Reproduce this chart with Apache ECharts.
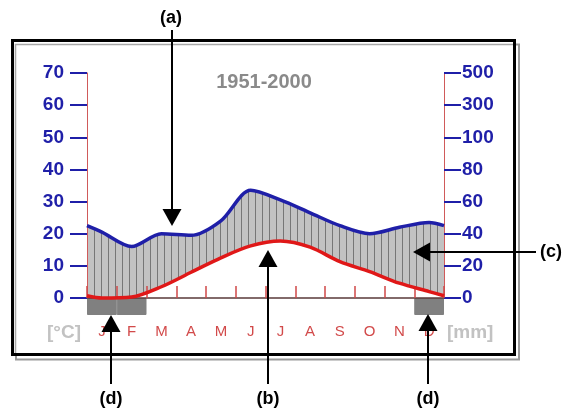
<!DOCTYPE html>
<html><head><meta charset="utf-8">
<script src="https://cdn.jsdelivr.net/npm/echarts@6/dist/echarts.min.js"></script>
<style>html,body{margin:0;padding:0;background:#fff}#c{width:566px;height:410px}</style>
</head><body><div id="c"></div>
<script>
// ---- data ----
const months = ['J','F','M','A','M','J','J','A','S','O','N','D'];
const monthPos = [0.5,1.5,2.5,3.5,4.5,5.5,6.5,7.5,8.5,9.5,10.5,11.5];
const temperature = [0.0, 0.3, 3.5, 8.0, 12.5, 16.2, 17.7, 15.8, 11.3, 8.2, 4.6, 2.0];   // °C
const precipitation = [41, 32, 40, 39, 48, 67, 61, 53, 45, 40, 44, 47];                  // mm
const edgeTemperature = 0.7;      // value on Jan 1 / Dec 31 edge
const edgePrecipitation = 45;     // mm on the edge
const frostMonths = [1,1,0,0,0,0,0,0,0,0,0,1];
const rightTickLabels = ['0','20','40','60','80','100','300','500'];
const title = '1951-2000';

const FONT = "'Liberation Sans', Arial, sans-serif";
const BLUE = '#1f1fa8';
const RED = '#e01818';

const tempData = [[0, edgeTemperature]].concat(monthPos.map((x,i)=>[x, temperature[i]]), [[12, edgeTemperature]]);
const precData = [[0, edgePrecipitation/2]].concat(monthPos.map((x,i)=>[x, precipitation[i]/2]), [[12, edgePrecipitation/2]]);

// hatch pattern
const pc = document.createElement('canvas');
pc.width = 7; pc.height = 4;
const g = pc.getContext('2d');
g.fillStyle = '#c2c2c2'; g.fillRect(0,0,7,4);
g.fillStyle = '#767676'; g.fillRect(3,0,1,4);

const SM = 0.3;
const chart = echarts.init(document.getElementById('c'), null, {renderer:'canvas'});

function arrow(x1,y1,x2,y2){
  const dx=x2-x1, dy=y2-y1, L=Math.hypot(dx,dy), ux=dx/L, uy=dy/L;
  const hl=17, hw=9.5;
  const bx=x2-ux*hl, by=y2-uy*hl;
  return [
    {type:'line', z:100, shape:{x1:x1,y1:y1,x2:bx,y2:by}, style:{stroke:'#000',lineWidth:2}},
    {type:'polygon', z:100, shape:{points:[[x2,y2],[bx-uy*hw,by+ux*hw],[bx+uy*hw,by-ux*hw]]}, style:{fill:'#000'}}
  ];
}
function label(t,x,y){
  return {type:'text', z:100, style:{text:t,x:x,y:y,fill:'#000',font:'bold 18px '+FONT,textAlign:'center',textVerticalAlign:'middle'}};
}

const graphics = [
  {type:'rect', z:-1, shape:{x:16,y:44.5,width:503,height:315}, style:{fill:'none',stroke:'#9a9a9a',lineWidth:2}},
  {type:'rect', z:-1, shape:{x:12.5,y:40.5,width:502,height:314}, style:{fill:'#fff',stroke:'#000',lineWidth:3}},
  {type:'polyline', z:-1, shape:{points:[[15.5,353],[15.5,44.5],[513,44.5]]}, style:{fill:'none',stroke:'#a8a8a8',lineWidth:1.5}},
  {type:'text', style:{text:title,x:264,y:82,fill:'#8a8a8a',font:'bold 20px '+FONT,textAlign:'center',textVerticalAlign:'middle'}},
  {type:'text', style:{text:'[°C]',x:81,y:333,fill:'#c2c2c2',font:'bold 19px '+FONT,textAlign:'right',textVerticalAlign:'middle'}},
  {type:'text', style:{text:'[mm]',x:447,y:333,fill:'#c2c2c2',font:'bold 19px '+FONT,textAlign:'left',textVerticalAlign:'middle'}},
  label('(a)',171,18), label('(b)',268,399), label('(c)',551,252), label('(d)',111,399), label('(d)',428,399)
].concat(
  arrow(172,30,172,226),
  arrow(268,384,268,250),
  arrow(536,252,413,252),
  arrow(111,384,111,315),
  arrow(428,384,428,314)
);

chart.setOption({
  animation:false,
  backgroundColor:'#fff',
  graphic: graphics,
  grid:[
    {left:87, right:122, top:73, bottom:112, containLabel:false},
    {left:87, right:122, top:298, height:17, containLabel:false}
  ],
  xAxis:[
    {type:'value', gridIndex:0, min:0, max:12, interval:1, z:5,
     axisLine:{show:true, onZero:false, lineStyle:{color:'#5a3a3a', width:1.5}},
     axisTick:{show:true, inside:true, length:12, lineStyle:{color:'#d04848', width:1.5}},
     axisLabel:{show:false}, splitLine:{show:false}},
    {type:'category', gridIndex:1, data:months, boundaryGap:true,
     axisLine:{show:false}, axisTick:{show:false},
     axisLabel:{show:true, margin:9, color:'#d24a4a', fontSize:15, fontFamily:FONT}}
  ],
  yAxis:[
    {type:'value', gridIndex:0, min:0, max:70, interval:10, position:'left', z:5,
     axisLine:{show:true, lineStyle:{color:'#d05a5a', width:1}},
     axisTick:{show:true, length:17, lineStyle:{color:BLUE, width:2}},
     axisLabel:{margin:23, color:BLUE, fontSize:19, fontWeight:'bold', fontFamily:FONT},
     splitLine:{show:false}},
    {type:'value', gridIndex:0, min:0, max:70, interval:10, position:'right', z:5,
     axisLine:{show:true, lineStyle:{color:'#d05a5a', width:1}},
     axisTick:{show:true, length:17, lineStyle:{color:BLUE, width:2}},
     axisLabel:{margin:18, color:BLUE, fontSize:19, fontWeight:'bold', fontFamily:FONT,
       formatter:v=>rightTickLabels[Math.round(v/10)]},
     splitLine:{show:false}},
    {type:'value', gridIndex:1, min:0, max:1, show:false}
  ],
  series:[
    {type:'line', name:'humid', xAxisIndex:0, yAxisIndex:0, data:precData, smooth:SM,
     symbol:'none', lineStyle:{opacity:0}, areaStyle:{color:{image:pc, repeat:'repeat'}, opacity:1, origin:'start'}, silent:true, z:1},
    {type:'line', name:'below', xAxisIndex:0, yAxisIndex:0, data:tempData, smooth:SM,
     symbol:'none', lineStyle:{opacity:0}, areaStyle:{color:'#fff', opacity:1, origin:'start'}, silent:true, z:2},
    {type:'line', name:'precipitation', xAxisIndex:0, yAxisIndex:0, data:precData, smooth:SM, clip:false,
     symbol:'none', lineStyle:{color:BLUE, width:3.5}, z:10},
    {type:'line', name:'temperature', xAxisIndex:0, yAxisIndex:0, data:tempData, smooth:SM, clip:false,
     symbol:'none', lineStyle:{color:RED, width:3.5}, z:11},
    {type:'bar', name:'frost', xAxisIndex:1, yAxisIndex:2, data:frostMonths.map(v=>v ? v : '-'), barWidth:'100%', barCategoryGap:'0%',
     itemStyle:{color:'#808080', borderColor:'#808080', borderWidth:1}, silent:true}
  ]
});
</script></body></html>
